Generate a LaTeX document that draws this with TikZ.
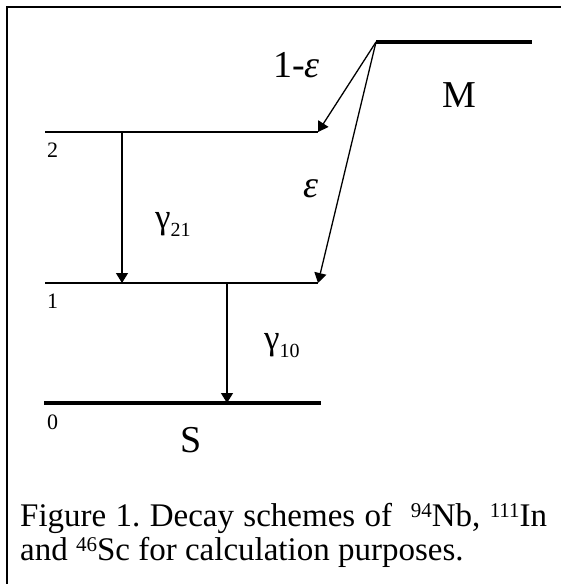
\documentclass[tikz,border=0pt]{standalone}
\usepackage{fontspec}
\setmainfont{Liberation Serif}
\usetikzlibrary{arrows.meta}
\newcommand{\isonum}[1]{\raisebox{9pt}{\fontsize{21}{21}\selectfont #1}}
\newcommand{\gsub}[1]{\raisebox{-8pt}{\fontsize{20}{20}\selectfont #1}}
\frenchspacing
\begin{document}
\begin{tikzpicture}[x=1pt,y=-1pt,
  thicklev/.style={line width=4.6pt,line cap=butt},
  thinlev/.style={line width=1.8pt,line cap=butt},
  trans/.style={line width=1.3pt,-{Triangle[length=10pt,width=12pt]}},
  biglab/.style={font=\fontsize{38}{38}\selectfont,inner sep=0pt,anchor=base west},
  gamlab/.style={font=\fontsize{35}{35}\selectfont,inner sep=0pt,anchor=base west},
  smalllab/.style={font=\fontsize{22}{22}\selectfont,inner sep=0pt,anchor=base west},
  caplab/.style={font=\fontsize{33}{34}\selectfont,inner sep=0pt,anchor=base west}]
\useasboundingbox (0,0) rectangle (561,584);
% frame
\draw[line width=2pt] (7,584) -- (7,7) -- (561,7);
% level end points
\coordinate (Ml) at (376,42);
\coordinate (Mr) at (532,42);
\coordinate (L2l) at (45,132);
\coordinate (L2r) at (318,132);
\coordinate (L1l) at (45,283);
\coordinate (L1r) at (318,283);
\coordinate (L0l) at (44,403);
\coordinate (L0r) at (321,403);
\coordinate (g21a) at (122,132);
\coordinate (g21b) at (122,283);
\coordinate (g10a) at (227,283);
\coordinate (g10b) at (227,403);
% levels
\draw[thicklev] (Ml) -- (Mr);
\draw[thinlev] (L2l) -- (L2r);
\draw[thinlev] (L1l) -- (L1r);
\draw[thicklev] (L0l) -- (L0r);
% transitions
\draw[trans] (Ml) -- (L2r);
\draw[trans] (Ml) -- (L1r);
\draw[trans] (g21a) -- (g21b);
\draw[trans] (g10a) -- (g10b);
% labels
\node[biglab] (lab1e) at (273,77) {1-\textit{ε}};
\node[biglab] (labM) at (442,107) {M};
\node[biglab] (labeps) at (303,197) {\textit{ε}};
\node[biglab] (labS) at (180,452) {S};
\node[smalllab] (n2) at (47,157) {2};
\node[smalllab] (n1) at (47,308) {1};
\node[smalllab] (n0) at (47,429) {0};
\node[gamlab] (lg21) at (155,228) {γ\gsub{21}};
\node[gamlab] (lg10) at (264,349) {γ\gsub{10}};
% caption
\node[caplab] (cap1) at (20,526) {\makebox[527pt][s]{Figure 1. Decay schemes of \ \isonum{94}Nb, \isonum{111}In}};
\node[caplab] (cap2) at (20,560) {and \isonum{46}Sc for calculation purposes.};
\end{tikzpicture}
\end{document}
